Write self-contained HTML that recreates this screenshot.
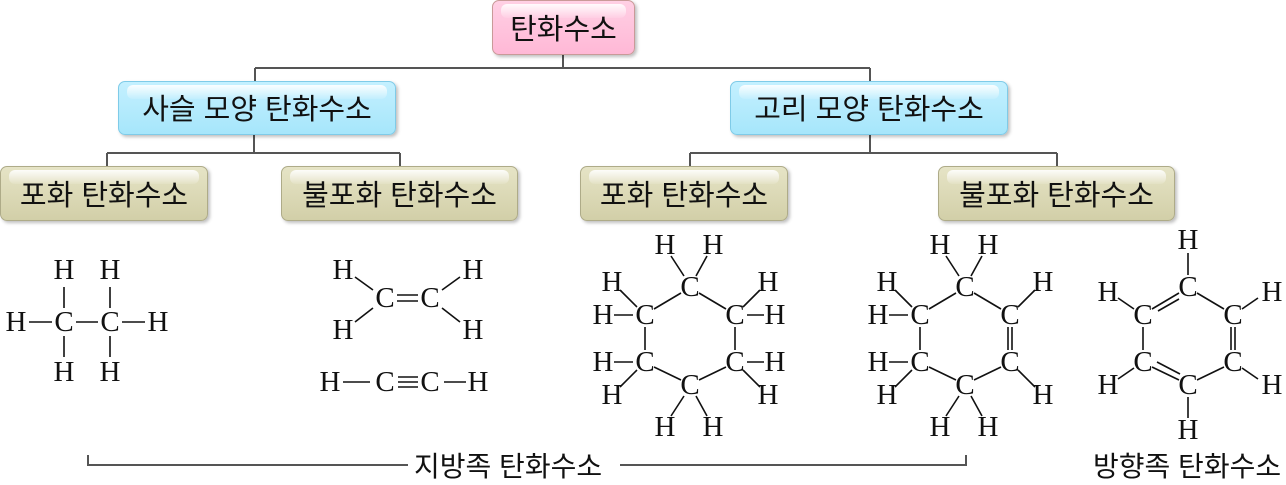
<!DOCTYPE html>
<html><head><meta charset="utf-8"><style>
body{margin:0;width:1286px;height:481px;background:#fff;position:relative;overflow:hidden;font-family:"Liberation Sans","Noto Sans CJK KR",sans-serif}
.b{position:absolute;box-sizing:border-box;border-radius:7px;display:flex;align-items:center;justify-content:center;font-size:29px;color:#111;box-shadow:2px 2px 3px rgba(0,0,0,.25)}
.b:before{content:"";position:absolute;left:8px;right:8px;top:3px;height:14px;border-radius:6px;background:linear-gradient(rgba(255,255,255,.9),rgba(255,255,255,.1))}
.b span{position:relative;top:-1px}
.p{background:linear-gradient(#ffd0e4,#ffb8d6);border:1px solid #c99a98}
.c{background:linear-gradient(#c4f0ff,#a6e6fb);border:1px solid #7fcbe8}
.k{background:linear-gradient(#e6e4c6,#d2cfa8);border:1px solid #aeab88}
svg{position:absolute;left:0;top:0}
svg text{font-family:"Liberation Serif",serif;font-size:29px;fill:#111}
</style></head><body>
<svg width="1286" height="481">
<g stroke="#555" stroke-width="2" fill="none">
<path d="M563 55V68M255 68H870M255 68V81M870 68V81"/>
<path d="M254 135V153M107 153H400M107 153V166M400 153V166"/>
<path d="M870 135V153M690 153H1057M690 153V166M1057 153V166"/>
<path d="M88 455V465H408M620 465H966V455"/>
</g>
<g stroke="#111" stroke-width="1.6">
<path d="M64 287V308M110 287V308M64 336V357M110 336V357M29 322H52M76 322H98M122 322H145"/>
<path d="M355 277L373 290M460 277L442 290M355 322L373 308M460 322L442 308M397 295H418M397 301H418"/>
<path d="M343 382H370M444 382H466M398 377H418M398 382H418M398 387H418"/>
</g>
<g stroke="#111" stroke-width="1.6">
<path d="M681 293L654 309M699 293L726 309M645 327V350M735 327V350M654 367L681 380M726 367L699 380M671 256L684 276M707 256L696 276M620 290L637 307M614 315H633M760 290L743 307M747 315H764M614 362H633M620 387L637 370M747 362H764M760 387L743 370M684 396L671 416M696 396L707 416"/>
</g>
<g transform="translate(275,0)" stroke="#111" stroke-width="1.6">
<path d="M681 293L654 309M699 293L726 309M645 327V350M733 327V350M737 327V350M654 367L681 380M726 367L699 380M671 256L684 276M707 256L696 276M620 290L637 307M614 315H633M760 290L743 307M614 362H633M620 387L637 370M760 387L743 370M684 396L671 416M696 396L707 416"/>
</g>
<g transform="translate(498,0)" stroke="#111" stroke-width="1.6">
<path d="M681 293L654 309M681 299L660 311M699 293L726 309M645 327V350M733 327V350M737 327V350M654 367L681 380M659 362L682 374M726 367L699 380M690 253V275M690 397V418M620 298L636 309M760 298L744 309M620 379L636 368M760 379L744 368"/>
</g>
<g text-anchor="middle" dominant-baseline="central">
<text x="64" y="270">H</text><text x="110" y="270">H</text><text x="16" y="322">H</text><text x="64" y="322">C</text><text x="110" y="322">C</text><text x="158" y="322">H</text><text x="64" y="372">H</text><text x="110" y="372">H</text>
<text x="343" y="270">H</text><text x="473" y="270">H</text><text x="385" y="298">C</text><text x="430" y="298">C</text><text x="343" y="330">H</text><text x="473" y="330">H</text>
<text x="330" y="382">H</text><text x="385" y="382">C</text><text x="430" y="382">C</text><text x="478" y="382">H</text>
<text x="665" y="245">H</text><text x="713" y="245">H</text><text x="690" y="287">C</text><text x="612" y="282">H</text><text x="768" y="282">H</text><text x="645" y="315">C</text><text x="735" y="315">C</text><text x="603" y="315">H</text><text x="775" y="315">H</text><text x="645" y="362">C</text><text x="735" y="362">C</text><text x="603" y="362">H</text><text x="775" y="362">H</text><text x="612" y="395">H</text><text x="768" y="395">H</text><text x="690" y="385">C</text><text x="665" y="427">H</text><text x="713" y="427">H</text>
<text x="940" y="245">H</text><text x="988" y="245">H</text><text x="965" y="287">C</text><text x="887" y="282">H</text><text x="1043" y="282">H</text><text x="920" y="315">C</text><text x="1010" y="315">C</text><text x="878" y="315">H</text><text x="920" y="362">C</text><text x="1010" y="362">C</text><text x="878" y="362">H</text><text x="887" y="395">H</text><text x="1043" y="395">H</text><text x="965" y="385">C</text><text x="940" y="427">H</text><text x="988" y="427">H</text>
<text x="1188" y="240">H</text><text x="1188" y="287">C</text><text x="1108" y="292">H</text><text x="1272" y="292">H</text><text x="1143" y="315">C</text><text x="1233" y="315">C</text><text x="1143" y="362">C</text><text x="1233" y="362">C</text><text x="1108" y="385">H</text><text x="1272" y="385">H</text><text x="1188" y="385">C</text><text x="1188" y="430">H</text>
</g>
</svg>
<div class="b p" style="left:492px;top:0;width:143px;height:55px"><span>탄화수소</span></div>
<div class="b c" style="left:118px;top:81px;width:278px;height:54px"><span>사슬 모양 탄화수소</span></div>
<div class="b c" style="left:730px;top:81px;width:278px;height:54px"><span>고리 모양 탄화수소</span></div>
<div class="b k" style="left:0;top:166px;width:208px;height:55px"><span>포화 탄화수소</span></div>
<div class="b k" style="left:281px;top:166px;width:237px;height:55px"><span>불포화 탄화수소</span></div>
<div class="b k" style="left:580px;top:166px;width:208px;height:55px"><span>포화 탄화수소</span></div>
<div class="b k" style="left:938px;top:166px;width:237px;height:55px"><span>불포화 탄화수소</span></div>
<div style="position:absolute;left:414px;top:445px;font-size:28px;color:#111">지방족 탄화수소</div>
<div style="position:absolute;left:1093px;top:445px;font-size:28px;color:#111">방향족 탄화수소</div>
</body></html>
